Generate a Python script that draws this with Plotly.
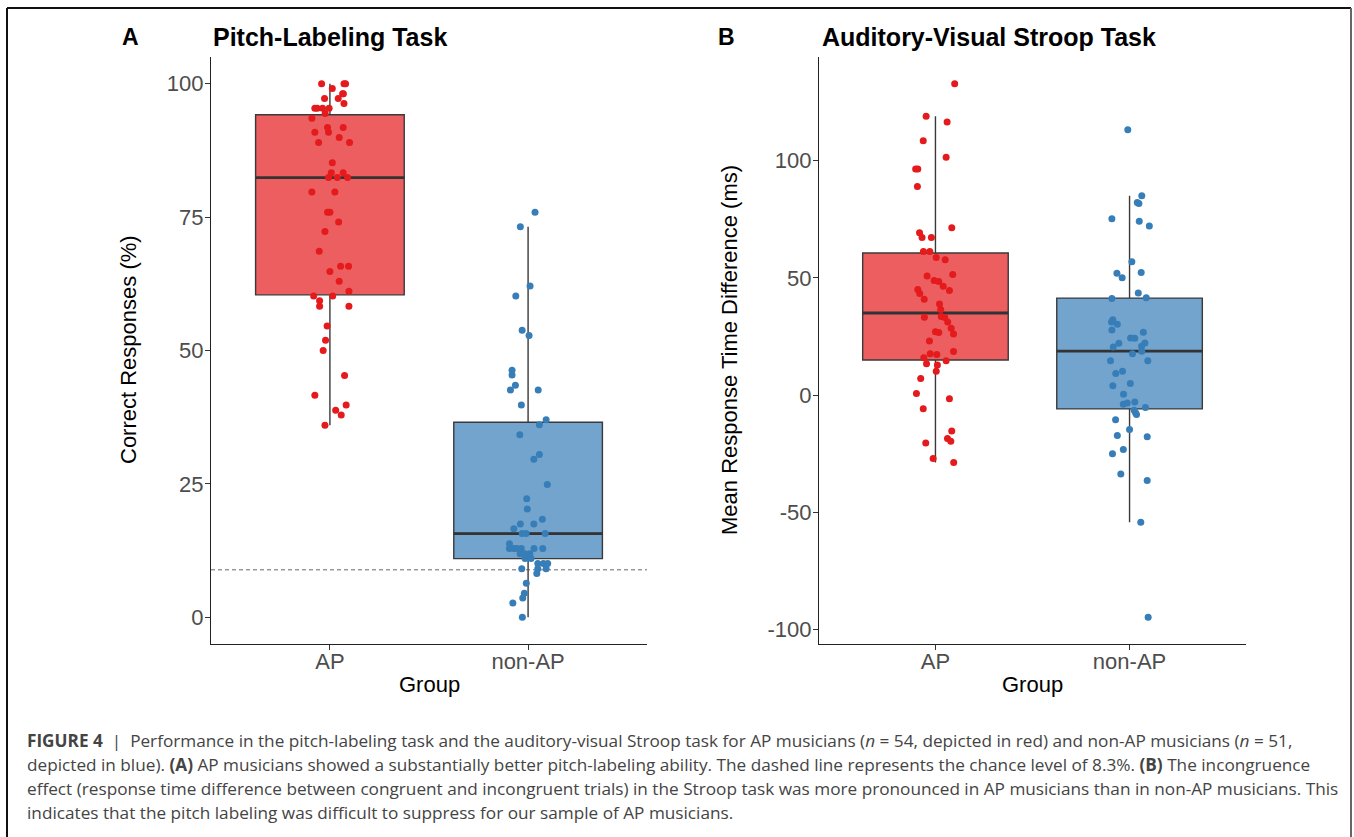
import numpy as np
import plotly.graph_objects as go

# ---------------- data ----------------
groups = ["AP", "non-AP"]

# Panel A: correct responses (%) in the pitch-labeling task
pitch_ap = [100.0, 100.0, 100.0, 99.1, 97.2, 97.2, 98.1, 98.1, 96.3, 95.4,
            95.4, 95.4, 95.4, 94.4, 93.5, 91.8, 91.8, 90.9, 90.9, 89.9,
            89.0, 89.0, 85.2, 83.3, 83.3, 82.4, 82.4, 82.4, 79.7, 79.7,
            75.9, 75.9, 74.1, 72.3, 68.6, 65.8, 65.8, 64.8, 63.0, 61.1,
            60.2, 60.2, 59.3, 58.3, 58.3, 54.6, 51.9, 50.0, 45.3, 41.6,
            39.8, 38.8, 37.9, 36.0]
pitch_ap_jitter = [-0.042, 0.071, 0.079, 0.012, -0.027, 0.042, 0.064, 0.068, 0.071, -0.076,
                   -0.064, -0.037, -0.004, -0.024, -0.091, -0.012, 0.067, -0.076, -0.007, 0.047,
                   -0.057, 0.099, 0.012, 0.007, 0.067, -0.007, 0.037, 0.089, -0.091, 0.025,
                   -0.012, 0.0, 0.044, -0.025, -0.054, 0.054, 0.094, 0.0, 0.047, 0.096,
                   -0.082, 0.014, -0.052, -0.052, 0.096, -0.014, -0.022, -0.034, 0.074, -0.076,
                   0.082, 0.029, 0.057, -0.025]

pitch_nonap = [75.9, 73.2, 62.1, 60.2, 53.8, 52.8, 46.3, 45.4, 43.5, 42.6,
               42.6, 39.8, 37.0, 36.1, 34.2, 30.5, 29.6, 24.9, 22.2, 20.3,
               17.5, 17.5, 18.4, 16.6, 15.7, 15.7, 15.7, 13.8, 12.9, 12.9,
               12.9, 12.9, 12.9, 11.9, 11.9, 11.9, 11.0, 10.1, 10.1, 10.1,
               9.1, 9.1, 9.1, 8.2, 6.4, 4.5, 3.6, 2.7, 0.0, 11.0,
               12.9]
pitch_nonap_jitter = [0.035, -0.039, 0.010, -0.062, -0.030, 0.005, -0.081, -0.081, -0.064, -0.089,
                      0.051, -0.034, 0.091, 0.057, -0.042, 0.057, 0.029, 0.097, -0.007, -0.004,
                      -0.039, 0.029, 0.072, -0.072, -0.030, -0.010, 0.086, -0.094, -0.094, -0.072,
                      -0.034, 0.030, 0.074, -0.040, -0.015, 0.009, -0.015, 0.049, 0.077, 0.099,
                      -0.032, 0.049, 0.091, 0.044, -0.009, -0.019, -0.027, -0.077, -0.029, 0.015,
                      -0.056]

chance_level = 8.9

# Panel B: mean response time difference (ms) in the auditory-visual Stroop task
stroop_ap = [132.8, 118.9, 116.5, 108.5, 101.4, 96.4, 96.4, 89.0, 71.4, 69.2,
             67.2, 67.2, 61.2, 61.2, 58.7, 57.7, 51.4, 50.8, 48.9, 48.4,
             46.4, 45.0, 44.6, 43.3, 40.9, 38.8, 36.5, 33.2, 33.1, 31.2,
             28.5, 27.0, 26.7, 26.0, 23.1, 18.6, 17.6, 17.3, 15.9, 14.6,
             13.3, 12.8, 10.2, 7.1, 0.7, -1.6, -5.8, -15.3, -18.5, -19.7,
             -20.5, -27.1, -28.8, 33.5]
stroop_ap_jitter = [0.099, -0.048, 0.060, -0.063, 0.055, -0.102, -0.091, -0.093, 0.084, -0.082,
                    -0.069, -0.021, -0.062, -0.029, 0.004, 0.050, 0.089, -0.043, -0.007, 0.017,
                    0.040, -0.091, 0.072, -0.081, -0.058, 0.021, 0.027, -0.057, 0.048, 0.063,
                    0.081, 0.0, 0.017, 0.093, -0.031, 0.093, -0.027, 0.007, -0.060, 0.055,
                    -0.046, 0.010, 0.004, -0.076, -0.098, 0.072, -0.063, 0.084, 0.062, 0.079,
                    -0.050, -0.012, 0.094, 0.030]

stroop_nonap = [113.2, 85.0, 82.1, 81.7, 75.2, 74.1, 72.1, 56.8, 51.9, 52.3,
                50.0, 43.5, 41.2, 41.5, 32.1, 31.2, 30.2, 27.7, 26.8, 24.3,
                24.2, 22.2, 22.1, 20.5, 20.8, 18.7, 17.6, 14.6, 14.6, 10.1,
                9.2, 4.9, 4.0, 0.3, -3.9, -3.4, -3.0, -5.3, -6.5, -7.5,
                -8.3, -10.5, -14.7, -17.2, -17.8, -25.0, -23.2, -33.7, -36.4, -54.2,
                -94.8]
stroop_nonap_jitter = [-0.009, 0.063, 0.040, 0.048, -0.091, 0.050, 0.102, 0.012, -0.065, 0.060,
                       -0.038, 0.045, -0.091, 0.086, -0.086, -0.093, -0.063, -0.091, 0.071, 0.005,
                       0.027, 0.079, -0.055, -0.084, 0.062, 0.063, 0.015, -0.098, 0.094, -0.036,
                       -0.071, 0.004, -0.086, -0.031, -0.032, -0.012, 0.027, 0.082, 0.024, 0.031,
                       0.036, -0.072, 0.0, -0.063, 0.091, -0.088, -0.032, -0.045, 0.091, 0.058,
                       0.096]

panel_titles = ["Pitch-Labeling Task", "Auditory-Visual Stroop Task"]
panel_letters = ["A", "B"]
y_titles = ["Correct Responses (%)", "Mean Response Time Difference (ms)"]
x_title = "Group"
y_ticks_a = [0, 25, 50, 75, 100]
y_ticks_b = [-100, -50, 0, 50, 100]

caption_lines = [
    "<b>FIGURE 4</b>  |  Performance in the pitch-labeling task and the auditory-visual Stroop task for AP musicians (<i>n</i> = 54, depicted in red) and non-AP musicians (<i>n</i> = 51,",
    "depicted in blue). <b>(A)</b> AP musicians showed a substantially better pitch-labeling ability. The dashed line represents the chance level of 8.3%. <b>(B)</b> The incongruence",
    "effect (response time difference between congruent and incongruent trials) in the Stroop task was more pronounced in AP musicians than in non-AP musicians. This",
    "indicates that the pitch labeling was difficult to suppress for our sample of AP musicians.",
]

# ---------------- styling ----------------
W, H = 1354, 837
FONT = "Liberation Sans, Arial, Helvetica, sans-serif"
CAP_FONT = "Open Sans, Liberation Sans, Arial, sans-serif"
point_colors = {"AP": "#E41A1C", "non-AP": "#377EB8"}
fill_colors = {"AP": "rgba(228,26,28,0.7)", "non-AP": "rgba(55,126,184,0.7)"}
box_width = 0.75
x_range = [0.4, 2.6]


def px(x):
    return x / W


def py(y):
    return 1 - y / H


def box_stats(v):
    v = np.asarray(v, dtype=float)
    q1, med, q3 = np.percentile(v, [25, 50, 75])
    iqr = q3 - q1
    lo = v[v >= q1 - 1.5 * iqr].min()
    hi = v[v <= q3 + 1.5 * iqr].max()
    return q1, med, q3, lo, hi


def padded_range(*arrs):
    allv = np.concatenate([np.asarray(a, dtype=float) for a in arrs])
    lo, hi = allv.min(), allv.max()
    pad = 0.05 * (hi - lo)
    return [lo - pad, hi + pad]


fig = go.Figure()


def add_panel(values, jitters, xa, ya, hline=None):
    for i, (g, vals) in enumerate(zip(groups, values)):
        pos = i + 1
        q1, med, q3, lo, hi = box_stats(vals)
        fig.add_trace(go.Box(
            x=[pos], q1=[q1], median=[med], q3=[q3], lowerfence=[lo], upperfence=[hi],
            width=box_width, fillcolor=fill_colors[g], whiskerwidth=0,
            line=dict(color="#3a3a3a", width=1.4), xaxis=xa, yaxis=ya,
            showlegend=False, hoverinfo="skip"))
        fig.add_trace(go.Scatter(
            x=[pos - box_width / 2, pos + box_width / 2], y=[med, med], mode="lines",
            line=dict(color="#333333", width=2.8), xaxis=xa, yaxis=ya,
            showlegend=False, hoverinfo="skip"))
    if hline is not None:
        fig.add_trace(go.Scatter(
            x=x_range, y=[hline, hline], mode="lines",
            line=dict(color="#555555", width=0.9, dash="4px,3px"), xaxis=xa, yaxis=ya,
            showlegend=False, hoverinfo="skip"))
    for i, (g, vals, jit) in enumerate(zip(groups, values, jitters)):
        pos = i + 1
        fig.add_trace(go.Scatter(
            x=pos + np.asarray(jit), y=vals, mode="markers",
            marker=dict(color=point_colors[g], size=7, line=dict(width=0)),
            xaxis=xa, yaxis=ya, showlegend=False, hoverinfo="y"))


add_panel([pitch_ap, pitch_nonap], [pitch_ap_jitter, pitch_nonap_jitter], "x", "y", hline=chance_level)
add_panel([stroop_ap, stroop_nonap], [stroop_ap_jitter, stroop_nonap_jitter], "x2", "y2")

axis_common = dict(showline=True, linecolor="#222222", linewidth=1.1, ticks="outside",
                   ticklen=5, tickwidth=1.1, tickcolor="#333333", showgrid=False,
                   zeroline=False, fixedrange=True,
                   tickfont=dict(family=FONT, size=22, color="#4D4D4D"))

y_dom = [py(644), py(57)]
fig.update_layout(
    width=W, height=H, margin=dict(l=0, r=0, t=0, b=0),
    paper_bgcolor="white", plot_bgcolor="white", showlegend=False,
    xaxis=dict(domain=[px(211), px(647)], range=x_range, tickvals=[1, 2], ticktext=groups,
               anchor="y", ticklabelstandoff=-7, **axis_common),
    yaxis=dict(domain=y_dom, range=padded_range(pitch_ap, pitch_nonap), tickvals=y_ticks_a,
               ticktext=[str(v) for v in y_ticks_a], anchor="x", ticklabelstandoff=-3,
               **axis_common),
    xaxis2=dict(domain=[px(819), px(1246)], range=x_range, tickvals=[1, 2], ticktext=groups,
                anchor="y2", ticklabelstandoff=-7, **axis_common),
    yaxis2=dict(domain=y_dom, range=padded_range(stroop_ap, stroop_nonap), tickvals=y_ticks_b,
                ticktext=[str(v) for v in y_ticks_b], anchor="x2", ticklabelstandoff=-3,
                **axis_common),
)

ann = []
P = dict(xref="paper", yref="paper", showarrow=False)
# panel letters and titles
for letter, lx in zip(panel_letters, [130, 726]):
    ann.append(dict(x=px(lx), y=py(37), text="<b>%s</b>" % letter,
                    xanchor="center", yanchor="middle",
                    font=dict(family=FONT, size=23, color="#000000"), **P))
for title, tx in zip(panel_titles, [211, 820]):
    ann.append(dict(x=px(tx), y=py(37), text="<b>%s</b>" % title,
                    xanchor="left", yanchor="middle",
                    font=dict(family=FONT, size=25, color="#000000"), **P))
# axis titles
for yt, yx in zip(y_titles, [128, 729]):
    ann.append(dict(x=px(yx), y=py(350), text=yt, textangle=-90,
                    xanchor="center", yanchor="middle",
                    font=dict(family=FONT, size=22, color="#000000"), **P))
for gx in [429, 1032]:
    ann.append(dict(x=px(gx), y=py(684), text=x_title,
                    xanchor="center", yanchor="middle",
                    font=dict(family=FONT, size=22, color="#000000"), **P))
# caption
for k, line in enumerate(caption_lines):
    ann.append(dict(x=px(25), y=py(740 + 24 * k), text=line,
                    xanchor="left", yanchor="middle", align="left",
                    font=dict(family=CAP_FONT, size=17.2, color="#444444"), **P))
fig.update_layout(annotations=ann)

# outer frame (left, top, right)
frame = [
    dict(type="line", xref="paper", yref="paper", x0=px(7), x1=px(7), y0=py(8), y1=0,
         line=dict(color="#111111", width=2)),
    dict(type="line", xref="paper", yref="paper", x0=px(7), x1=px(1351), y0=py(8), y1=py(8),
         line=dict(color="#111111", width=2)),
    dict(type="line", xref="paper", yref="paper", x0=px(1351), x1=px(1351), y0=py(8), y1=0,
         line=dict(color="#666666", width=2)),
]
fig.update_layout(shapes=frame)

fig.write_html("out.html", config={"displayModeBar": False},
               post_script="document.body.style.margin='0';document.body.style.overflow='hidden';")
